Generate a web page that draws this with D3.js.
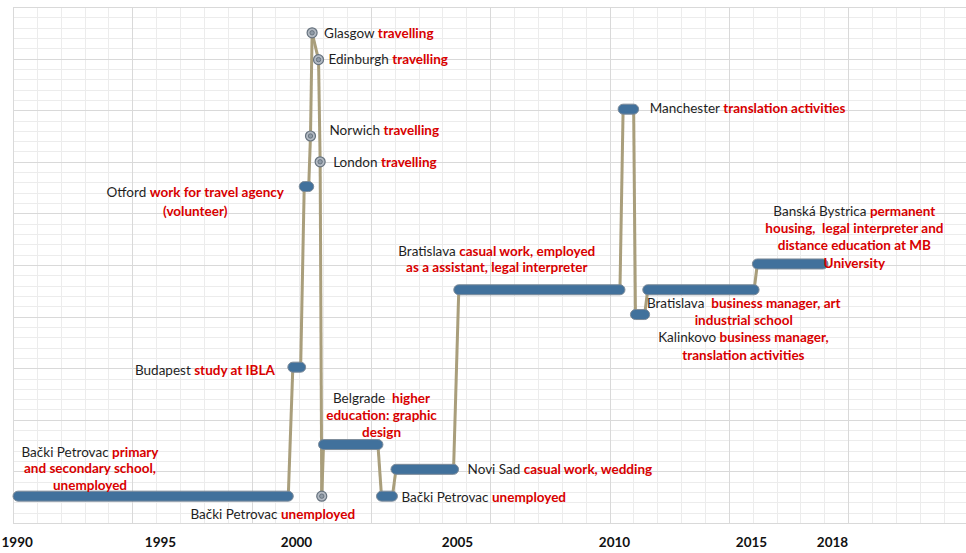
<!DOCTYPE html>
<html>
<head>
<meta charset="utf-8">
<style>
  body { margin: 0; background: #fff; }
  svg { display: block; font-family: Lato, "Open Sans", sans-serif; }
  .grid-minor { stroke: #ececec; stroke-width: 1; }
  .grid-major { stroke: #d9d9d9; stroke-width: 1; }
  .link { fill: none; stroke: #a99e7b; stroke-width: 3; }
  .stay { fill: #41719c; stroke: #7d8b99; stroke-width: 1; }
  .stop { fill: #b3bac3; stroke: #66727e; stroke-width: 1.2; }
  .stop-in { fill: #8f9aa6; stroke: #5d6975; stroke-width: 0.8; }
  .lbl { font-size: 13.5px; white-space: pre; }
  .place { fill: #1f1f1f; }
  .activity { fill: #d80000; font-weight: bold; }
  .axis text { font-size: 13.5px; font-weight: bold; fill: #111; font-family: Lato, sans-serif; }
</style>
</head>
<body>
<svg width="966" height="553"></svg>
<script src="https://cdn.jsdelivr.net/npm/d3@7"></script>
<script>

// stays in chronological order; "|" breaks the activity text onto a new line
var places = ["Bački Petrovac", "Budapest", "Otford", "Norwich", "Glasgow", "Edinburgh", "London",
  "Bački Petrovac", "Belgrade ", "Bački Petrovac", "Novi Sad", "Bratislava", "Manchester",
  "Kalinkovo", "Bratislava ", "Banská Bystrica"];
var activities = ["primary|and secondary school,|unemployed", "study at IBLA",
  "work for travel agency|(volunteer)", "travelling", "travelling", "travelling", "travelling",
  "unemployed", "higher|education: graphic|design", "unemployed", "casual work, wedding",
  "casual work, employed|as a assistant, legal interpreter", "translation activities",
  "business manager,|translation activities", "business manager, art|industrial school",
  "permanent|housing,  legal interpreter and|distance education at MB|University"];
var starts = [1990, 1999.7, 2000.1, 2000.45, 2000.5, 2000.7, 2000.75, 2000.8, 2000.7, 2002.5,
  2002.95, 2004.9, 2010.15, 2010.6, 2011.05, 2015.05];
var ends = [1999.9, 2000.3, 2000.55, 2000.45, 2000.5, 2000.7, 2000.75, 2000.8, 2002.7, 2003.15,
  2005.05, 2010.4, 2010.9, 2011.3, 2015.3, 2017.85];
// vertical level of each place (grid units)
var levels = [2.6, 15.1, 32.6, 37.5, 47.5, 44.9, 35.0, 2.6, 7.6, 2.6, 5.2, 22.6, 40.1, 20.2, 22.6, 25.1];
var yearTicks = [1990, 1995, 2000, 2005, 2010, 2015, 2018];

// label placement relative to the stay (pixels)
var labelLayout = [
  {at: "start", dx: 77, dy: -44, anchor: "middle", lh: 16.5},
  {at: "start", dx: -13, dy: 3, anchor: "end", lh: 16},
  {at: "start", dx: -104, dy: 6, anchor: "middle", lh: 19},
  {at: "start", dx: 19, dy: -6, anchor: "start", lh: 16},
  {at: "start", dx: 12, dy: 0, anchor: "start", lh: 16},
  {at: "start", dx: 10, dy: 0, anchor: "start", lh: 16},
  {at: "start", dx: 13, dy: 0, anchor: "start", lh: 16},
  {at: "start", dx: -49, dy: 18, anchor: "middle", lh: 16},
  {at: "start", dx: 63, dy: -46, anchor: "middle", lh: 17},
  {at: "end", dx: 4, dy: 1, anchor: "start", lh: 16},
  {at: "end", dx: 9, dy: 0, anchor: "start", lh: 16},
  {at: "start", dx: 43, dy: -38, anchor: "middle", lh: 16},
  {at: "end", dx: 11, dy: -1, anchor: "start", lh: 16},
  {at: "start", dx: 113, dy: 23, anchor: "middle", lh: 18},
  {at: "start", dx: 101, dy: 14, anchor: "middle", lh: 17},
  {at: "start", dx: 102, dy: -53, anchor: "middle", lh: 17.3}
];

var stays = places.map(function (p, i) {
  return {place: p, activity: activities[i], start: starts[i], end: ends[i], level: levels[i], layout: labelLayout[i]};
});

var svg = d3.select("svg");

// year axis in the original is not evenly spaced
var x = d3.scaleLinear()
  .domain([1990, 1995, 2000, 2005, 2010, 2015, 2018])
  .range([13, 160, 296, 457, 614, 751, 832]);
var y = d3.scaleLinear().domain([0, 50]).range([523, 7]);
// background grid (independent of the years)
var gx = d3.scaleLinear().domain([0, 40]).range([13, 967.4]);

var grid = svg.append("g");
grid.selectAll(".vx")
  .data(d3.range(0, 41))
  .enter().append("line")
  .attr("class", function (d) { return d % 5 === 0 ? "grid-major" : "grid-minor"; })
  .attr("x1", function (d) { return Math.round(gx(d)) + 0.5; })
  .attr("x2", function (d) { return Math.round(gx(d)) + 0.5; })
  .attr("y1", y(50)).attr("y2", y(0));
grid.selectAll(".hy")
  .data(d3.range(0, 51))
  .enter().append("line")
  .attr("class", function (d) { return d % 5 === 0 ? "grid-major" : "grid-minor"; })
  .attr("x1", gx(0)).attr("x2", gx(40))
  .attr("y1", function (d) { return Math.round(y(d)) + 0.5; })
  .attr("y2", function (d) { return Math.round(y(d)) + 0.5; });
// minor lines first, majors on top
grid.selectAll(".grid-major").raise();

var R = 5;
function inset(d) {
  return Math.min(R, (x(d.end) - x(d.start)) / 2);
}

// connectors between consecutive stays
var links = d3.pairs(stays);
svg.append("g").selectAll("path")
  .data(links)
  .enter().append("path")
  .attr("class", "link")
  .attr("d", function (p) {
    return d3.line()([
      [x(p[0].end) - inset(p[0]), y(p[0].level)],
      [x(p[1].start) + inset(p[1]), y(p[1].level)]
    ]);
  });

// stays with a duration
svg.append("g").selectAll("rect")
  .data(stays.filter(function (d) { return d.end > d.start; }))
  .enter().append("rect")
  .attr("class", "stay")
  .attr("x", function (d) { return x(d.start); })
  .attr("y", function (d) { return y(d.level) - R; })
  .attr("width", function (d) { return x(d.end) - x(d.start); })
  .attr("height", 2 * R)
  .attr("rx", R).attr("ry", R);

// short stops
var stops = svg.append("g").selectAll("g")
  .data(stays.filter(function (d) { return d.end === d.start; }))
  .enter().append("g")
  .attr("transform", function (d) { return "translate(" + x(d.start) + "," + y(d.level) + ")"; });
stops.append("circle").attr("class", "stop").attr("r", 5);
stops.append("circle").attr("class", "stop-in").attr("r", 2.2);

// labels
var labels = svg.append("g").selectAll("g")
  .data(stays)
  .enter().append("g");

labels.each(function (d) {
  var L = d.layout;
  var bx = (L.at === "end" ? x(d.end) : x(d.start)) + L.dx;
  var by = y(d.level) + L.dy;
  var lines = d.activity.split("|");
  var g = d3.select(this);
  lines.forEach(function (line, k) {
    var t = g.append("text")
      .attr("class", "lbl")
      .attr("x", bx)
      .attr("y", by + k * L.lh)
      .attr("dy", "0.35em")
      .attr("text-anchor", L.anchor);
    if (k === 0) {
      t.append("tspan").attr("class", "place").text(d.place + " ");
    }
    t.append("tspan").attr("class", "activity").text(line);
  });
});

// year labels
svg.append("g")
  .attr("class", "axis")
  .attr("transform", "translate(0,537)")
  .call(d3.axisBottom(x).tickValues(yearTicks).tickFormat(d3.format("d")).tickSize(0).tickPadding(0))
  .call(function (g) { g.select(".domain").remove(); })
  .selectAll(".tick text")
  .filter(function (d) { return d === yearTicks[0]; })
  // first label sits on the left edge, keep it inside the picture
  .attr("text-anchor", "start")
  .attr("x", 1 - x(yearTicks[0]));

</script>
</body>
</html>
